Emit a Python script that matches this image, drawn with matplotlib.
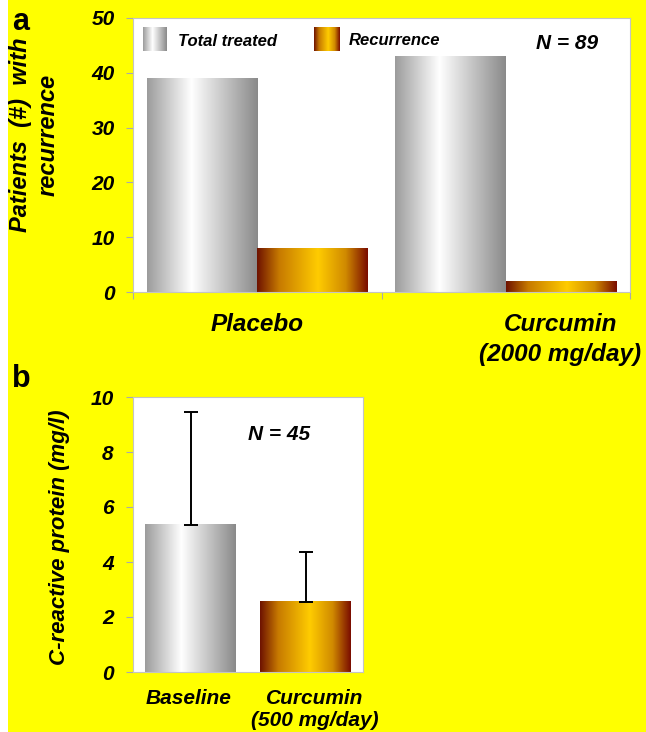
import matplotlib
matplotlib.use("Agg")
import matplotlib.pyplot as plt
import numpy as np
from matplotlib.colors import LinearSegmentedColormap
from matplotlib.patches import Rectangle

plt.rcParams['font.family'] = ['Liberation Sans', 'DejaVu Sans']

## data - panel a
groups_a = ["Placebo", "Curcumin\n(2000 mg/day)"]
total_treated = [39, 43]
recurrence = [8, 2]
n_a = "N = 89"

## data - panel b
groups_b = ["Baseline", "Curcumin\n(500 mg/day)"]
crp_mean = [5.35, 2.55]
crp_err = [4.1, 1.8]
n_b = "N = 45"

YELLOW = "#ffff00"
grey_cmap = LinearSegmentedColormap.from_list(
    "greybar", [(0, "#9c9c9c"), (0.4, "#ffffff"), (1, "#8a8a8a")])
gold_cmap = LinearSegmentedColormap.from_list(
    "goldbar", [(0, "#6e1200"), (0.2, "#c77a00"), (0.55, "#ffcc00"),
                (0.8, "#d08a00"), (1, "#7a0c00")])
grad = np.linspace(0, 1, 256).reshape(1, -1)


def fill_gradient(ax, bars, cmap):
    # paint a horizontal gradient inside each bar
    for b in bars:
        x0, y0 = b.get_x(), b.get_y()
        ax.imshow(grad, cmap=cmap, aspect='auto', zorder=2,
                  extent=(x0, x0 + b.get_width(), y0, y0 + b.get_height()))
        b.set_facecolor('none')


def style_axes(ax):
    ax.set_facecolor('white')
    for s in ax.spines.values():
        s.set_color('#c4c4c4')
        s.set_linewidth(0.8)


fig = plt.figure(figsize=(6.46, 7.32), dpi=100, facecolor='white')
fig.patches.append(Rectangle((8 / 646, 0), 1, 1, transform=fig.transFigure,
                             facecolor=YELLOW, edgecolor='none', zorder=-1))

tick_font = dict(fontsize=15, fontweight='bold', fontstyle='italic')

# ---------------- panel a ----------------
ax1 = fig.add_axes([133 / 646, 1 - 292 / 732, 497 / 646, 274 / 732])
style_axes(ax1)
xa = np.arange(len(groups_a))
w = 0.445
b1 = ax1.bar(xa - w / 2, total_treated, w, zorder=2)
b2 = ax1.bar(xa + w / 2, recurrence, w, zorder=2)
fill_gradient(ax1, b1, grey_cmap)
fill_gradient(ax1, b2, gold_cmap)
ax1.set_yticks([0, 10, 20, 30, 40, 50])
ax1.set_yticklabels([str(v) for v in [0, 10, 20, 30, 40, 50]], **tick_font)
ax1.tick_params(axis='y', length=5, color='#aaaaaa', pad=8)
ax1.set_xticks([-0.5, 0.5, 1.5])
ax1.set_xticklabels([])
ax1.tick_params(axis='x', which='major', length=5, color='#aaaaaa')
label_shift = np.array([0.0, 0.22])
ax1.set_xticks(xa + label_shift, minor=True)
ax1.set_xticklabels(groups_a, minor=True, fontsize=17.5, fontweight='bold',
                    fontstyle='italic', linespacing=1.4)
ax1.tick_params(axis='x', which='minor', length=0, pad=15)
ax1.set_ylabel("Patients  (#)  with\nrecurrence", fontsize=17,
               fontweight='bold', fontstyle='italic', linespacing=1.27)
ax1.yaxis.set_label_coords(-0.147, 0.573)

# legend drawn by hand
ax1.imshow(grad, cmap=grey_cmap, aspect='auto', transform=ax1.transAxes,
           extent=(0.020, 0.068, 0.88, 0.964), zorder=3)
ax1.imshow(grad, cmap=gold_cmap, aspect='auto', transform=ax1.transAxes,
           extent=(0.364, 0.416, 0.88, 0.964), zorder=3)
ax1.text(0.091, 0.898, "Total treated", transform=ax1.transAxes, va='baseline',
         fontsize=12, fontstyle='italic', fontweight='bold')
ax1.text(0.435, 0.9, "Recurrence", transform=ax1.transAxes, va='baseline',
         fontsize=12, fontstyle='italic', fontweight='bold')
ax1.text(0.81, 0.887, n_a, transform=ax1.transAxes, va='baseline',
         fontsize=15, fontweight='bold', fontstyle='italic')
ax1.set_xlim(-0.5, 1.5)
ax1.set_ylim(0, 50)

# ---------------- panel b ----------------
ax2 = fig.add_axes([133 / 646, 1 - 672 / 732, 230 / 646, 275 / 732])
style_axes(ax2)
xb = np.arange(len(groups_b))
wb = 0.79
bb = ax2.bar(xb, crp_mean, wb, zorder=2)
fill_gradient(ax2, [bb[0]], grey_cmap)
fill_gradient(ax2, [bb[1]], gold_cmap)
ax2.errorbar(xb, crp_mean, yerr=[np.zeros(len(crp_err)), crp_err], fmt='none',
             ecolor='black', elinewidth=1.4, capsize=5, capthick=1.4, zorder=4)
ax2.set_xlim(-0.5, 1.5)
ax2.set_ylim(0, 10)
ax2.set_yticks([0, 2, 4, 6, 8, 10])
ax2.set_yticklabels([str(v) for v in [0, 2, 4, 6, 8, 10]], **tick_font)
ax2.tick_params(axis='y', length=5, color='#aaaaaa', pad=9)
ax2.set_xticks(xb + np.array([-0.02, 0.08]))
ax2.set_xticklabels(groups_b, fontsize=15, fontweight='bold',
                    fontstyle='italic', linespacing=1.2)
ax2.tick_params(axis='x', length=0, pad=12)
ax2.set_ylabel("C-reactive protein (mg/l)", fontsize=16, fontweight='bold',
               fontstyle='italic')
ax2.yaxis.set_label_coords(-0.272, 0.49)
ax2.text(0.5, 0.845, n_b, transform=ax2.transAxes, va='baseline',
         fontsize=15, fontweight='bold', fontstyle='italic')

# panel letters
fig.text(12 / 646, 1 - 22 / 732, "a", fontsize=22, fontweight='bold', va='center')
fig.text(12 / 646, 1 - 379 / 732, "b", fontsize=22, fontweight='bold', va='center')

fig.savefig("out.png", dpi=100, facecolor=fig.get_facecolor())
